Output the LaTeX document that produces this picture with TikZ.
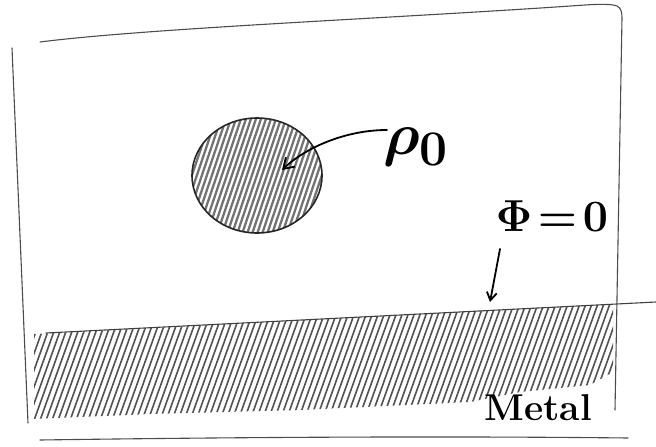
\documentclass[tikz,border=0pt]{standalone}
\usetikzlibrary{arrows.meta,shapes.geometric}
\begin{document}
\begin{tikzpicture}[x=1pt,y=-1pt,
  frame/.style={draw=black!70, line width=1.1pt, line cap=round, line join=round},
  hatch/.style={draw=black!68, line width=1.6pt},
  ink/.style={draw=black, line width=1.8pt, line cap=round},
  lbl/.style={inner sep=0pt, font=\Huge\bfseries\boldmath, transform shape}]
\useasboundingbox (0,0) rectangle (656,447);
% frame
\draw[frame] (40,42) .. controls (150,28) and (400,18) .. (585,5) .. controls (600,4) and (612,4) .. (617,6) .. controls (621,8) and (622,12) .. (622,18) -- (615,410);
\draw[frame] (12,48) -- (28,423);
\draw[frame] (40,440) .. controls (250,437) and (450,436) .. (628,438);
% metal
\begin{scope}
\clip (34,334) -- (613,304) -- (613,372) -- (590,385) -- (520,392) -- (470,402) -- (300,410) -- (150,414) -- (34,419) -- cycle;
\foreach \x in {-40,-34,...,630} \draw[hatch] (\x,426) -- ++(46,-128);
\end{scope}
\coordinate (m1) at (46,333);
\coordinate (m2) at (656,302);
\draw[frame, draw=black!75] (m1) -- (m2);
% charged sphere
\begin{scope}
\clip (257,175.5) ellipse [x radius=65, y radius=57.5];
\foreach \x in {150,155,...,380} \draw[draw=black!55, line width=2.3pt] (\x,240) -- ++(44,-130);
\end{scope}
\node[ellipse, draw=black!85, line width=1.6pt, minimum width=130pt, minimum height=115pt, inner sep=0pt] (blob) at (257,175.5) {};
% labels
\node[lbl, scale=2.4] (rho) at (416,147) {$\rho_0$};
\node[lbl, scale=1.8] (phi) at (552,216) {$\Phi\!=\!0$};
\node[lbl, scale=1.5] (metal) at (538,408) {Metal};
% arrows
\coordinate (rhotip) at (282,170);
\coordinate (rhostart) at (387,130);
\draw[ink,-{Straight Barb[length=10pt,width=13pt]}] (rhostart) .. controls (345,130) and (305,148) .. (rhotip);
\coordinate (phistart) at (500,249);
\coordinate (phitip) at (490,302);
\draw[ink,-{Straight Barb[length=8pt,width=10pt]}] (phistart) -- (phitip);
\end{tikzpicture}
\end{document}
